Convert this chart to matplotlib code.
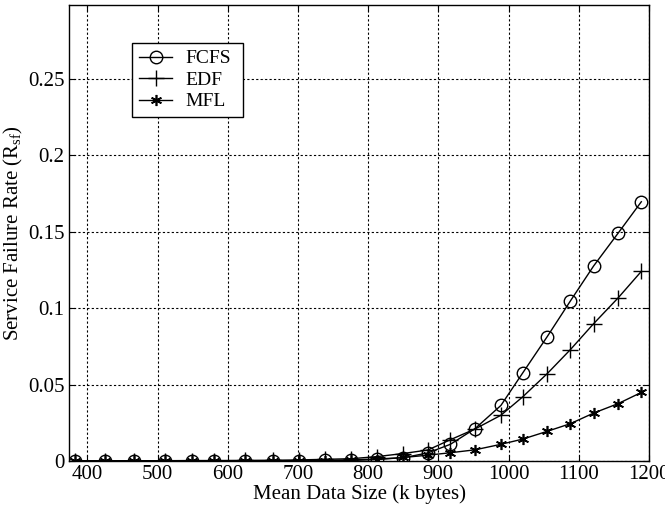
import numpy as np
import matplotlib
matplotlib.use('Agg')
import matplotlib.pyplot as plt

plt.rcParams['font.family'] = 'Liberation Serif'
plt.rcParams['mathtext.fontset'] = 'custom'
plt.rcParams['mathtext.rm'] = 'Liberation Serif'
plt.rcParams['mathtext.it'] = 'Liberation Serif:italic'

# data
data_size = [383, 425, 467, 510, 549, 580, 624, 664, 701, 738, 776, 813,
             850, 885, 917, 952, 989, 1020, 1055, 1088, 1121, 1156, 1189]
fcfs = [0, 0, 0, 0, 0.0002, 0.0002, 0.0002, 0.0002, 0.0003, 0.0005, 0.0008, 0.0015,
        0.0022, 0.0054, 0.011, 0.0212, 0.0364, 0.0576, 0.0814, 0.1047, 0.1275, 0.149, 0.1695]
edf = [0.0003, 0.0003, 0.0003, 0.0003, 0.0004, 0.0004, 0.0005, 0.0006, 0.0008, 0.0012, 0.0016, 0.003,
       0.005, 0.0073, 0.014, 0.021, 0.030, 0.042, 0.0572, 0.0729, 0.0898, 0.1067, 0.124]
mfl = [0, 0, 0, 0, 0.0001, 0.0001, 0.0001, 0.0001, 0.0002, 0.0003, 0.0005, 0.001,
       0.0024, 0.0039, 0.0055, 0.0074, 0.011, 0.0144, 0.0195, 0.0245, 0.0314, 0.0376, 0.0449]

xticks = [400, 500, 600, 700, 800, 900, 1000, 1100, 1200]
yticks = [0, 0.05, 0.1, 0.15, 0.2, 0.25]
ytick_labels = ['0', '0.05', '0.1', '0.15', '0.2', '0.25']

fig = plt.figure(figsize=(6.65, 5.09), dpi=100)
ax = fig.add_axes([0.104, 0.094, 0.872, 0.896])

ax.plot(data_size, fcfs, color='k', lw=1, marker='o', ms=9, mfc='none', mec='k', mew=1, label='FCFS')
ax.plot(data_size, edf, color='k', lw=1, marker='+', ms=11, mew=1, label='EDF')
ax.plot(data_size, mfl, color='k', lw=1, marker=(6, 2, 0), ms=8, mew=1.2, label='MFL')

ax.set_xlim(374, 1200)
ax.set_ylim(0, 0.298)
ax.set_xticks(xticks)
ax.set_yticks(yticks)
ax.set_yticklabels(ytick_labels)
ax.tick_params(direction='in', labelsize=15, length=4, width=0.8, top=True, right=True)
ax.tick_params(axis='x', pad=3)
ax.grid(True, color='k', linestyle=(0, (2, 2)), lw=0.8)

ax.set_xlabel('Mean Data Size (k bytes)', fontsize=15, labelpad=0)
ax.set_ylabel(r'Service Failure Rate (R$_{\rm sf}$)', fontsize=15, labelpad=2)

for s in ax.spines.values():
    s.set_linewidth(1)

leg = ax.legend(loc='upper left', bbox_to_anchor=(0.109, 0.5, 0.191, 0.417), mode='expand',
                fontsize=14, frameon=True, fancybox=False, edgecolor='k', handlelength=1.7,
                borderpad=0.35, labelspacing=0.2, handletextpad=0.7, borderaxespad=0)
leg.get_frame().set_linewidth(1)
leg.get_frame().set_alpha(1)

fig.savefig('out.png', dpi=100)
